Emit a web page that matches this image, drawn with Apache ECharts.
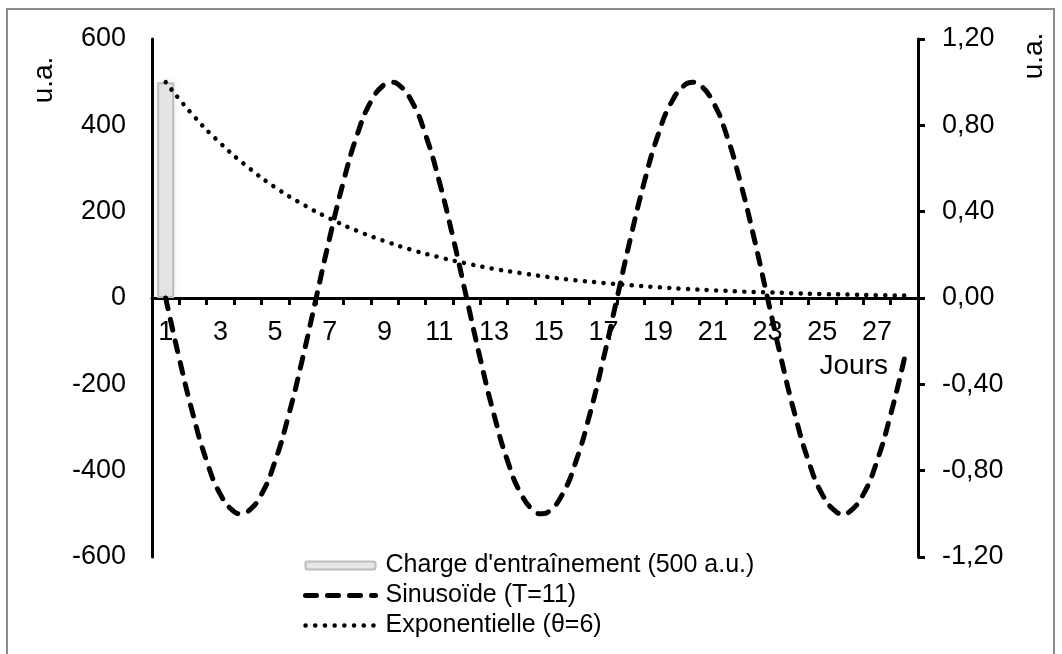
<!DOCTYPE html>
<html>
<head>
<meta charset="utf-8">
<script src="https://cdn.jsdelivr.net/npm/echarts@6/dist/echarts.min.js"></script>
<style>
  html, body { margin:0; padding:0; background:#fff; }
  #chart { width:1062px; height:654px; }
</style>
</head>
<body>
<div id="chart"></div>
<script>
// jours 1..28
var jours = ['1','2','3','4','5','6','7','8','9','10','11','12','13','14',
             '15','16','17','18','19','20','21','22','23','24','25','26','27','28'];
// charge d'entrainement (seulement le jour 1)
var charge = [500,'-','-','-','-','-','-','-','-','-','-','-','-','-',
              '-','-','-','-','-','-','-','-','-','-','-','-','-','-'];
// sinusoide T=11 (axe gauche), relevee tous les demi-jours + sommets
var joursSinus = [1,1.5,2,2.5,3,3.5,3.75,4,4.5,5,5.5,6,6.5,7,7.5,8,8.5,9,9.25,9.5,10,10.5,
                  11,11.5,12,12.5,13,13.5,14,14.5,14.75,15,15.5,16,16.5,17,17.5,18,18.5,19,19.5,20,20.25,20.5,
                  21,21.5,22,22.5,23,23.5,24,24.5,25,25.5,25.75,26,26.5,27,27.5,28];
var sinusoide = [0,-141,-270,-378,-455,-495,-500,-495,-455,-378,-270,-141,0,141,270,378,455,495,500,495,455,378,
                 270,141,0,-141,-270,-378,-455,-495,-500,-495,-455,-378,-270,-141,0,141,270,378,455,495,500,495,
                 455,378,270,141,0,-141,-270,-378,-455,-495,-500,-495,-455,-378,-270,-141];
// exponentielle theta=6 (axe droit)
var exponentielle = [1.000,0.847,0.717,0.607,0.513,0.435,0.368,0.311,0.264,0.223,0.189,0.160,0.135,0.115,
                     0.097,0.082,0.070,0.059,0.050,0.042,0.036,0.030,0.026,0.022,0.018,0.016,0.013,0.011];

var police = 'Liberation Sans, Arial, sans-serif';
var noms = ["Charge d'entraînement (500 a.u.)", 'Sinusoïde (T=11)', 'Exponentielle (θ=6)'];

var sinusPoints = joursSinus.map(function(j, i){ return [j, sinusoide[i]]; });

var option = {
    backgroundColor:'#fff',
    animation:false,
    textStyle:{fontFamily:police},
    grid:{left:152, right:144, top:39, bottom:97},
    legend:{
        orient:'vertical',
        left:303,
        top:551,
        padding:0,
        itemWidth:70,
        itemHeight:8,
        itemGap:1,
        textStyle:{color:'#000', fontSize:25, fontFamily:police, lineHeight:29, padding:[0,0,0,5]},
        data:[
            {name:noms[0]},
            {name:noms[1], itemStyle:{opacity:0}, lineStyle:{color:'#000', width:5, type:[11,11], cap:'round'}},
            {name:noms[2], itemStyle:{opacity:0}, lineStyle:{color:'#000', width:4.5, type:[0.1,9.6], cap:'round'}}
        ]
    },
    xAxis:[
        {
            type:'category',
            data:jours,
            boundaryGap:true,
            offset:-259,
            axisLine:{onZero:false, lineStyle:{color:'#000', width:3}},
            axisTick:{show:true, interval:0, length:7, lineStyle:{color:'#000', width:3}},
            axisLabel:{interval:1, color:'#000', fontSize:27, margin:21, fontFamily:police},
            splitLine:{show:false}
        },
        {
            // axe cache pour la sinusoide (memes positions que les categories)
            type:'value', min:0.5, max:28.5, show:false,
            axisLine:{onZero:false}
        }
    ],
    yAxis:[
        {
            type:'value', min:-600, max:600, interval:200,
            axisLine:{show:true, onZero:false, lineStyle:{color:'#000', width:3}},
            axisTick:{show:false},
            axisLabel:{color:'#000', fontSize:27, margin:26, fontFamily:police},
            splitLine:{show:false}
        },
        {
            type:'value', min:-1.2, max:1.2, interval:0.4, position:'right',
            axisLine:{show:true, onZero:false, lineStyle:{color:'#000', width:3}},
            axisTick:{show:true, length:7, lineStyle:{color:'#000', width:3}},
            axisLabel:{color:'#000', fontSize:27, margin:24, fontFamily:police,
                formatter:function(v){ return v.toFixed(2).replace('.', ','); }},
            splitLine:{show:false}
        }
    ],
    graphic:[
        {type:'rect', shape:{x:7, y:9, width:1047, height:700},
         style:{fill:'none', stroke:'#8c8c8c', lineWidth:2}, silent:true, z:-10},
        {type:'text', x:44, y:80, rotation:Math.PI/2,
         style:{text:'u.a.', font:'28px ' + police, fill:'#000', textAlign:'center', textVerticalAlign:'middle'}},
        {type:'text', x:1034, y:56, rotation:Math.PI/2,
         style:{text:'u.a.', font:'28px ' + police, fill:'#000', textAlign:'center', textVerticalAlign:'middle'}},
        {type:'text', x:888, y:366,
         style:{text:'Jours', font:'28px ' + police, fill:'#000', textAlign:'right', textVerticalAlign:'middle'}}
    ],
    series:[
        {
            name:noms[0],
            type:'bar',
            xAxisIndex:0,
            yAxisIndex:0,
            barWidth:17,
            data:charge,
            itemStyle:{color:'#e6e6e6', borderColor:'#bdbdbd', borderWidth:2,
                       shadowColor:'rgba(0,0,0,0.08)', shadowBlur:8}
        },
        {
            name:noms[1],
            type:'line',
            xAxisIndex:1,
            yAxisIndex:0,
            smooth:true,
            symbol:'none',
            data:sinusPoints,
            lineStyle:{color:'#000', width:5, type:[11,11], cap:'round'},
            itemStyle:{color:'#000'}
        },
        {
            name:noms[2],
            type:'line',
            xAxisIndex:0,
            yAxisIndex:1,
            smooth:true,
            symbol:'none',
            data:exponentielle,
            lineStyle:{color:'#000', width:4.5, type:[0.1,9.3], cap:'round'},
            itemStyle:{color:'#000'}
        }
    ]
};

var chart = echarts.init(document.getElementById('chart'));
chart.setOption(option);
</script>
</body>
</html>
